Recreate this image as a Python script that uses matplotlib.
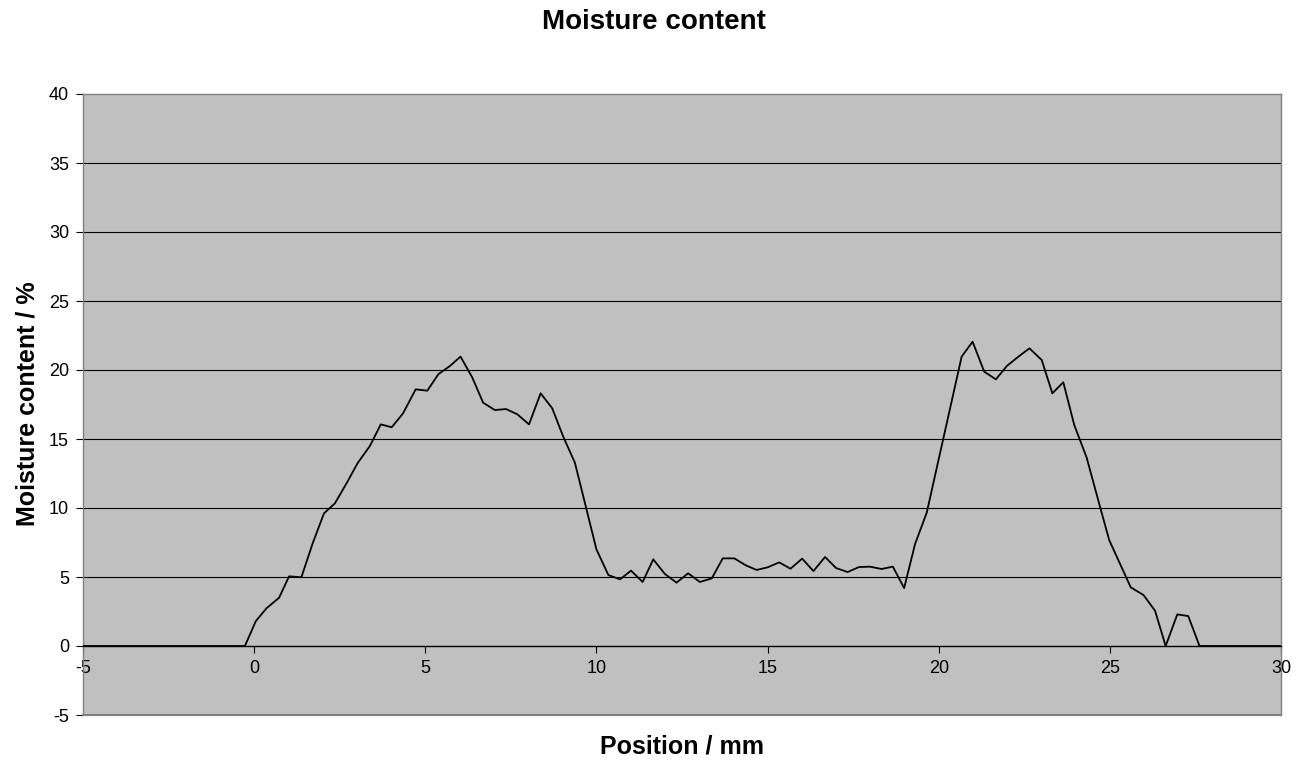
import matplotlib

matplotlib.use("Agg")
import matplotlib.pyplot as plt

plt.rcParams["font.family"] = ["Liberation Sans", "DejaVu Sans"]
plt.rcParams["axes.unicode_minus"] = False

# position (mm) and moisture content (%)
position = [
    -5.0, -0.27, 0.05, 0.36, 0.73, 1.02, 1.38, 1.71, 2.04, 2.36, 2.70,
    3.02, 3.38, 3.70, 4.02, 4.35, 4.72, 5.06, 5.38, 5.72, 6.03,
    6.37, 6.69, 7.03, 7.36, 7.69, 8.03, 8.37, 8.71, 9.03, 9.37,
    9.69, 10.00, 10.35, 10.69, 11.01, 11.35, 11.66, 12.00, 12.34, 12.68,
    13.02, 13.37, 13.69, 14.03, 14.36, 14.68, 15.00, 15.34, 15.67, 16.01,
    16.34, 16.68, 17.00, 17.34, 17.67, 17.99, 18.33, 18.66, 18.99, 19.31,
    19.65, 19.99, 20.33, 20.67, 20.99, 21.33, 21.67, 21.99, 22.33, 22.65,
    23.01, 23.32, 23.64, 23.96, 24.32, 24.66, 24.98, 25.30, 25.61, 25.98,
    26.32, 26.63, 26.97, 27.29, 27.62, 30.0,
]
moisture = [
    0.0, 0.0, 1.81, 2.73, 3.50, 5.05, 4.98, 7.44, 9.61, 10.34, 11.79,
    13.24, 14.49, 16.06, 15.85, 16.86, 18.60, 18.50, 19.69, 20.29, 20.97,
    19.47, 17.63, 17.10, 17.17, 16.79, 16.06, 18.31, 17.22, 15.17, 13.29,
    10.10, 7.00, 5.14, 4.83, 5.46, 4.64, 6.28, 5.22, 4.59, 5.27,
    4.64, 4.90, 6.35, 6.35, 5.85, 5.51, 5.70, 6.06, 5.60, 6.33,
    5.43, 6.45, 5.65, 5.36, 5.72, 5.75, 5.58, 5.75, 4.20, 7.40,
    9.66, 13.43, 17.20, 20.97, 22.05, 19.88, 19.32, 20.29, 20.97, 21.57,
    20.72, 18.31, 19.11, 16.01, 13.67, 10.57, 7.68, 5.94, 4.25, 3.70,
    2.56, 0.0, 2.29, 2.17, 0.0, 0.0,
]

x_ticks = [-5, 0, 5, 10, 15, 20, 25, 30]
y_ticks = [-5, 0, 5, 10, 15, 20, 25, 30, 35, 40]

W, H = 1308, 760
fig = plt.figure(figsize=(W / 100, H / 100), dpi=100)
fig.patch.set_facecolor("white")

left, right, top, bottom = 83, 1281, 94, 715
ax = fig.add_axes([left / W, 1 - bottom / H, (right - left) / W, (bottom - top) / H])
ax.set_facecolor("#c0c0c0")

for v in y_ticks[2:-1]:
    ax.axhline(v, color="#000000", lw=0.8, zorder=1)

ax.plot(position, moisture, color="black", lw=1.3, zorder=3)

ax.set_xlim(-5, 30)
ax.set_ylim(-5, 40)
ax.set_xticks(x_ticks)
ax.set_yticks(y_ticks)

for side in ("top", "right", "left"):
    ax.spines[side].set_color("#808080")
    ax.spines[side].set_linewidth(1.0)
ax.spines["bottom"].set_position(("data", 0))
ax.spines["bottom"].set_color("black")
ax.spines["bottom"].set_linewidth(1.0)
ax.axhline(-5, color="#808080", lw=1.5, clip_on=False, zorder=4)

ax.tick_params(axis="both", direction="out", length=5, width=0.8,
               labelsize=13, colors="black")
ax.tick_params(axis="x", pad=5)
ax.tick_params(axis="y", pad=5)

fig.text(0.5, 1 - 22 / H, "Moisture content", ha="center", va="center",
         fontsize=20, fontweight="bold")
fig.text((left + right) / 2 / W, 1 - 747 / H, "Position / mm", ha="center",
         va="center", fontsize=18, fontweight="bold")
fig.text(28 / W, 1 - 404 / H, "Moisture content / %", ha="center", va="center",
         rotation=90, fontsize=18, fontweight="bold")

fig.savefig("out.png", dpi=100)
